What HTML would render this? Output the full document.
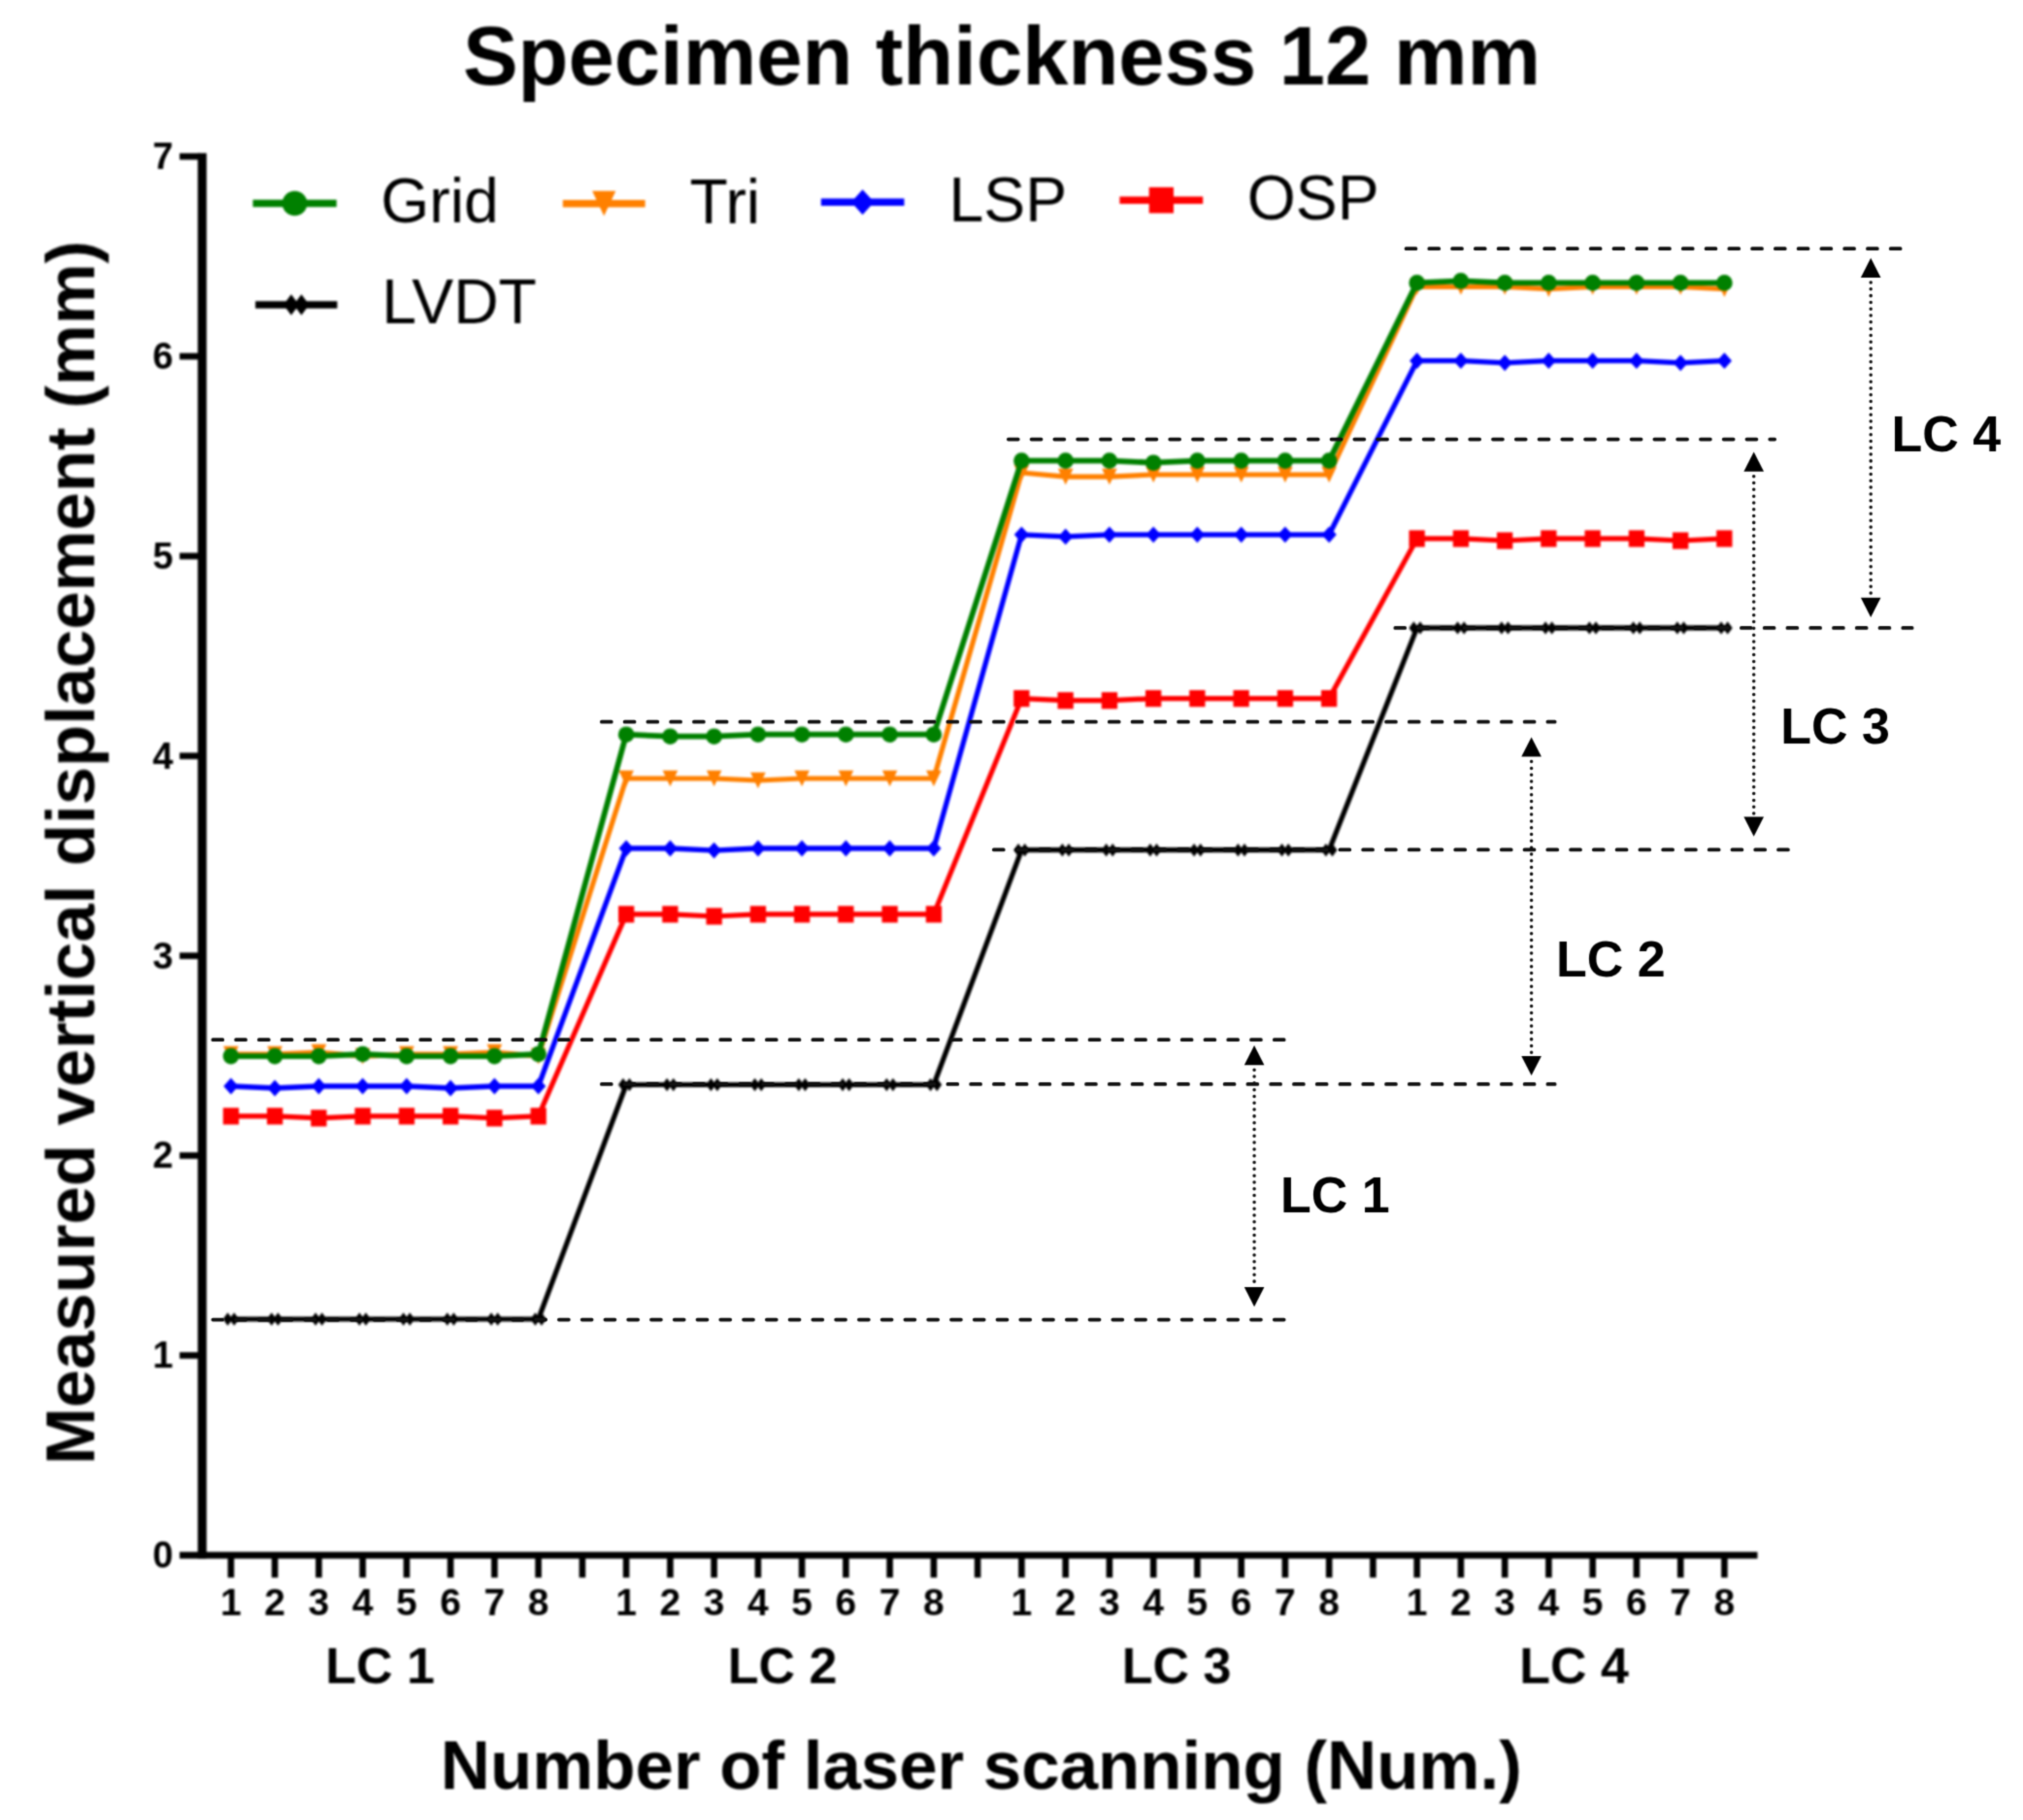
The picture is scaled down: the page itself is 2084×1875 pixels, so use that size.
<!DOCTYPE html>
<html lang="en"><head><meta charset="utf-8"><title>Specimen thickness 12 mm</title>
<style>html,body{margin:0;padding:0;background:#fff}svg{display:block}text{fill:#000}</style></head>
<body>
<svg width="2084" height="1875" viewBox="0 0 2084 1875" font-family="'Liberation Sans', Arial, Helvetica, sans-serif">
<rect width="2084" height="1875" fill="#fff"/>
<defs><filter id="soft" filterUnits="userSpaceOnUse" x="0" y="0" width="2084" height="1875" color-interpolation-filters="sRGB"><feGaussianBlur stdDeviation="0.8"/></filter><filter id="soft2" filterUnits="userSpaceOnUse" x="0" y="0" width="2084" height="1875" color-interpolation-filters="sRGB"><feConvolveMatrix order="5" preserveAlpha="false" edgeMode="none" kernelMatrix="0.00001 0.00062 0.00227 0.00062 0.00001 0.00062 0.03065 0.11253 0.03065 0.00062 0.00227 0.11253 0.41321 0.11253 0.00227 0.00062 0.03065 0.11253 0.03065 0.00062 0.00001 0.00062 0.00227 0.00062 0.00001"/></filter></defs>
<g filter="url(#soft)">
<path d="M237.9,1359.0L283.1,1359.0L328.4,1359.0L373.6,1359.0L418.9,1359.0L464.1,1359.0L509.4,1359.0L554.6,1359.0L645.1,1117.5L690.4,1117.5L735.6,1117.5L780.9,1117.5L826.1,1117.5L871.4,1117.5L916.6,1117.5L961.9,1117.5L1052.4,875.7L1097.7,875.7L1142.9,875.7L1188.2,875.7L1233.4,875.7L1278.7,875.7L1323.9,875.7L1369.2,875.7L1459.7,646.9L1504.9,646.9L1550.2,646.9L1595.4,646.9L1640.7,646.9L1685.9,646.9L1731.2,646.9L1776.4,646.9" stroke="#000000" stroke-width="5.2" fill="none" stroke-linejoin="round"/>
<path d="M229.6,1359.0L234.6,1352.3L239.6,1359.0L234.6,1365.7ZM236.2,1359.0L241.2,1352.3L246.2,1359.0L241.2,1365.7Z" fill="#000000"/>
<path d="M274.8,1359.0L279.8,1352.3L284.8,1359.0L279.8,1365.7ZM281.4,1359.0L286.4,1352.3L291.4,1359.0L286.4,1365.7Z" fill="#000000"/>
<path d="M320.1,1359.0L325.1,1352.3L330.1,1359.0L325.1,1365.7ZM326.7,1359.0L331.7,1352.3L336.7,1359.0L331.7,1365.7Z" fill="#000000"/>
<path d="M365.3,1359.0L370.3,1352.3L375.3,1359.0L370.3,1365.7ZM371.9,1359.0L376.9,1352.3L381.9,1359.0L376.9,1365.7Z" fill="#000000"/>
<path d="M410.6,1359.0L415.6,1352.3L420.6,1359.0L415.6,1365.7ZM417.2,1359.0L422.2,1352.3L427.2,1359.0L422.2,1365.7Z" fill="#000000"/>
<path d="M455.8,1359.0L460.8,1352.3L465.8,1359.0L460.8,1365.7ZM462.4,1359.0L467.4,1352.3L472.4,1359.0L467.4,1365.7Z" fill="#000000"/>
<path d="M501.1,1359.0L506.1,1352.3L511.1,1359.0L506.1,1365.7ZM507.7,1359.0L512.7,1352.3L517.7,1359.0L512.7,1365.7Z" fill="#000000"/>
<path d="M546.4,1359.0L551.4,1352.3L556.4,1359.0L551.4,1365.7ZM552.9,1359.0L557.9,1352.3L562.9,1359.0L557.9,1365.7Z" fill="#000000"/>
<path d="M636.9,1117.5L641.9,1110.8L646.9,1117.5L641.9,1124.2ZM643.4,1117.5L648.4,1110.8L653.4,1117.5L648.4,1124.2Z" fill="#000000"/>
<path d="M682.1,1117.5L687.1,1110.8L692.1,1117.5L687.1,1124.2ZM688.7,1117.5L693.7,1110.8L698.7,1117.5L693.7,1124.2Z" fill="#000000"/>
<path d="M727.4,1117.5L732.4,1110.8L737.4,1117.5L732.4,1124.2ZM733.9,1117.5L738.9,1110.8L743.9,1117.5L738.9,1124.2Z" fill="#000000"/>
<path d="M772.6,1117.5L777.6,1110.8L782.6,1117.5L777.6,1124.2ZM779.2,1117.5L784.2,1110.8L789.2,1117.5L784.2,1124.2Z" fill="#000000"/>
<path d="M817.9,1117.5L822.9,1110.8L827.9,1117.5L822.9,1124.2ZM824.4,1117.5L829.4,1110.8L834.4,1117.5L829.4,1124.2Z" fill="#000000"/>
<path d="M863.1,1117.5L868.1,1110.8L873.1,1117.5L868.1,1124.2ZM869.7,1117.5L874.7,1110.8L879.7,1117.5L874.7,1124.2Z" fill="#000000"/>
<path d="M908.4,1117.5L913.4,1110.8L918.4,1117.5L913.4,1124.2ZM914.9,1117.5L919.9,1110.8L924.9,1117.5L919.9,1124.2Z" fill="#000000"/>
<path d="M953.6,1117.5L958.6,1110.8L963.6,1117.5L958.6,1124.2ZM960.2,1117.5L965.2,1110.8L970.2,1117.5L965.2,1124.2Z" fill="#000000"/>
<path d="M1044.1,875.7L1049.1,869.0L1054.1,875.7L1049.1,882.4ZM1050.7,875.7L1055.7,869.0L1060.7,875.7L1055.7,882.4Z" fill="#000000"/>
<path d="M1089.4,875.7L1094.4,869.0L1099.4,875.7L1094.4,882.4ZM1096.0,875.7L1101.0,869.0L1106.0,875.7L1101.0,882.4Z" fill="#000000"/>
<path d="M1134.6,875.7L1139.6,869.0L1144.6,875.7L1139.6,882.4ZM1141.2,875.7L1146.2,869.0L1151.2,875.7L1146.2,882.4Z" fill="#000000"/>
<path d="M1179.9,875.7L1184.9,869.0L1189.9,875.7L1184.9,882.4ZM1186.5,875.7L1191.5,869.0L1196.5,875.7L1191.5,882.4Z" fill="#000000"/>
<path d="M1225.1,875.7L1230.1,869.0L1235.1,875.7L1230.1,882.4ZM1231.7,875.7L1236.7,869.0L1241.7,875.7L1236.7,882.4Z" fill="#000000"/>
<path d="M1270.4,875.7L1275.4,869.0L1280.4,875.7L1275.4,882.4ZM1277.0,875.7L1282.0,869.0L1287.0,875.7L1282.0,882.4Z" fill="#000000"/>
<path d="M1315.6,875.7L1320.6,869.0L1325.6,875.7L1320.6,882.4ZM1322.2,875.7L1327.2,869.0L1332.2,875.7L1327.2,882.4Z" fill="#000000"/>
<path d="M1360.9,875.7L1365.9,869.0L1370.9,875.7L1365.9,882.4ZM1367.5,875.7L1372.5,869.0L1377.5,875.7L1372.5,882.4Z" fill="#000000"/>
<path d="M1451.4,646.9L1456.4,640.2L1461.4,646.9L1456.4,653.6ZM1458.0,646.9L1463.0,640.2L1468.0,646.9L1463.0,653.6Z" fill="#000000"/>
<path d="M1496.6,646.9L1501.6,640.2L1506.6,646.9L1501.6,653.6ZM1503.2,646.9L1508.2,640.2L1513.2,646.9L1508.2,653.6Z" fill="#000000"/>
<path d="M1541.9,646.9L1546.9,640.2L1551.9,646.9L1546.9,653.6ZM1548.5,646.9L1553.5,640.2L1558.5,646.9L1553.5,653.6Z" fill="#000000"/>
<path d="M1587.1,646.9L1592.1,640.2L1597.1,646.9L1592.1,653.6ZM1593.7,646.9L1598.7,640.2L1603.7,646.9L1598.7,653.6Z" fill="#000000"/>
<path d="M1632.4,646.9L1637.4,640.2L1642.4,646.9L1637.4,653.6ZM1639.0,646.9L1644.0,640.2L1649.0,646.9L1644.0,653.6Z" fill="#000000"/>
<path d="M1677.6,646.9L1682.6,640.2L1687.6,646.9L1682.6,653.6ZM1684.2,646.9L1689.2,640.2L1694.2,646.9L1689.2,653.6Z" fill="#000000"/>
<path d="M1722.9,646.9L1727.9,640.2L1732.9,646.9L1727.9,653.6ZM1729.5,646.9L1734.5,640.2L1739.5,646.9L1734.5,653.6Z" fill="#000000"/>
<path d="M1768.1,646.9L1773.1,640.2L1778.1,646.9L1773.1,653.6ZM1774.7,646.9L1779.7,640.2L1784.7,646.9L1779.7,653.6Z" fill="#000000"/>
<path d="M237.9,1149.9L283.1,1149.9L328.4,1151.9L373.6,1149.9L418.9,1149.9L464.1,1149.9L509.4,1151.9L554.6,1149.9L645.1,941.9L690.4,941.9L735.6,944.0L780.9,941.9L826.1,941.9L871.4,941.9L916.6,941.9L961.9,941.9L1052.4,719.6L1097.7,721.7L1142.9,721.7L1188.2,719.6L1233.4,719.6L1278.7,719.6L1323.9,719.6L1369.2,719.6L1459.7,554.9L1504.9,554.9L1550.2,557.0L1595.4,554.9L1640.7,554.9L1685.9,554.9L1731.2,557.0L1776.4,554.9" stroke="#FF0000" stroke-width="5.2" fill="none" stroke-linejoin="round"/>
<rect x="229.8" y="1141.3" width="16.3" height="17.2" fill="#FF0000"/>
<rect x="275.0" y="1141.3" width="16.3" height="17.2" fill="#FF0000"/>
<rect x="320.2" y="1143.3" width="16.3" height="17.2" fill="#FF0000"/>
<rect x="365.5" y="1141.3" width="16.3" height="17.2" fill="#FF0000"/>
<rect x="410.8" y="1141.3" width="16.3" height="17.2" fill="#FF0000"/>
<rect x="456.0" y="1141.3" width="16.3" height="17.2" fill="#FF0000"/>
<rect x="501.2" y="1143.3" width="16.3" height="17.2" fill="#FF0000"/>
<rect x="546.5" y="1141.3" width="16.3" height="17.2" fill="#FF0000"/>
<rect x="637.0" y="933.3" width="16.3" height="17.2" fill="#FF0000"/>
<rect x="682.2" y="933.3" width="16.3" height="17.2" fill="#FF0000"/>
<rect x="727.5" y="935.4" width="16.3" height="17.2" fill="#FF0000"/>
<rect x="772.8" y="933.3" width="16.3" height="17.2" fill="#FF0000"/>
<rect x="818.0" y="933.3" width="16.3" height="17.2" fill="#FF0000"/>
<rect x="863.2" y="933.3" width="16.3" height="17.2" fill="#FF0000"/>
<rect x="908.5" y="933.3" width="16.3" height="17.2" fill="#FF0000"/>
<rect x="953.8" y="933.3" width="16.3" height="17.2" fill="#FF0000"/>
<rect x="1044.2" y="711.0" width="16.3" height="17.2" fill="#FF0000"/>
<rect x="1089.5" y="713.1" width="16.3" height="17.2" fill="#FF0000"/>
<rect x="1134.8" y="713.1" width="16.3" height="17.2" fill="#FF0000"/>
<rect x="1180.0" y="711.0" width="16.3" height="17.2" fill="#FF0000"/>
<rect x="1225.2" y="711.0" width="16.3" height="17.2" fill="#FF0000"/>
<rect x="1270.5" y="711.0" width="16.3" height="17.2" fill="#FF0000"/>
<rect x="1315.8" y="711.0" width="16.3" height="17.2" fill="#FF0000"/>
<rect x="1361.0" y="711.0" width="16.3" height="17.2" fill="#FF0000"/>
<rect x="1451.5" y="546.3" width="16.3" height="17.2" fill="#FF0000"/>
<rect x="1496.8" y="546.3" width="16.3" height="17.2" fill="#FF0000"/>
<rect x="1542.0" y="548.4" width="16.3" height="17.2" fill="#FF0000"/>
<rect x="1587.2" y="546.3" width="16.3" height="17.2" fill="#FF0000"/>
<rect x="1632.5" y="546.3" width="16.3" height="17.2" fill="#FF0000"/>
<rect x="1677.8" y="546.3" width="16.3" height="17.2" fill="#FF0000"/>
<rect x="1723.0" y="548.4" width="16.3" height="17.2" fill="#FF0000"/>
<rect x="1768.2" y="546.3" width="16.3" height="17.2" fill="#FF0000"/>
<path d="M237.9,1119.0L283.1,1121.0L328.4,1119.0L373.6,1119.0L418.9,1119.0L464.1,1121.0L509.4,1119.0L554.6,1119.0L645.1,874.0L690.4,874.0L735.6,876.1L780.9,874.0L826.1,874.0L871.4,874.0L916.6,874.0L961.9,874.0L1052.4,550.8L1097.7,552.9L1142.9,550.8L1188.2,550.8L1233.4,550.8L1278.7,550.8L1323.9,550.8L1369.2,550.8L1459.7,371.7L1504.9,371.7L1550.2,373.8L1595.4,371.7L1640.7,371.7L1685.9,371.7L1731.2,373.8L1776.4,371.7" stroke="#0000FF" stroke-width="5.3" fill="none" stroke-linejoin="round"/>
<polygon points="230.3,1119.0 237.9,1110.6 245.5,1119.0 237.9,1127.4" fill="#0000FF"/>
<polygon points="275.5,1121.0 283.1,1112.6 290.8,1121.0 283.1,1129.4" fill="#0000FF"/>
<polygon points="320.8,1119.0 328.4,1110.6 336.0,1119.0 328.4,1127.4" fill="#0000FF"/>
<polygon points="366.0,1119.0 373.6,1110.6 381.2,1119.0 373.6,1127.4" fill="#0000FF"/>
<polygon points="411.3,1119.0 418.9,1110.6 426.5,1119.0 418.9,1127.4" fill="#0000FF"/>
<polygon points="456.5,1121.0 464.1,1112.6 471.8,1121.0 464.1,1129.4" fill="#0000FF"/>
<polygon points="501.8,1119.0 509.4,1110.6 517.0,1119.0 509.4,1127.4" fill="#0000FF"/>
<polygon points="547.0,1119.0 554.6,1110.6 562.2,1119.0 554.6,1127.4" fill="#0000FF"/>
<polygon points="637.5,874.0 645.1,865.6 652.8,874.0 645.1,882.4" fill="#0000FF"/>
<polygon points="682.8,874.0 690.4,865.6 698.0,874.0 690.4,882.4" fill="#0000FF"/>
<polygon points="728.0,876.1 735.6,867.7 743.2,876.1 735.6,884.5" fill="#0000FF"/>
<polygon points="773.3,874.0 780.9,865.6 788.5,874.0 780.9,882.4" fill="#0000FF"/>
<polygon points="818.5,874.0 826.1,865.6 833.8,874.0 826.1,882.4" fill="#0000FF"/>
<polygon points="863.8,874.0 871.4,865.6 879.0,874.0 871.4,882.4" fill="#0000FF"/>
<polygon points="909.0,874.0 916.6,865.6 924.2,874.0 916.6,882.4" fill="#0000FF"/>
<polygon points="954.3,874.0 961.9,865.6 969.5,874.0 961.9,882.4" fill="#0000FF"/>
<polygon points="1044.8,550.8 1052.4,542.4 1060.0,550.8 1052.4,559.2" fill="#0000FF"/>
<polygon points="1090.1,552.9 1097.7,544.5 1105.2,552.9 1097.7,561.3" fill="#0000FF"/>
<polygon points="1135.3,550.8 1142.9,542.4 1150.5,550.8 1142.9,559.2" fill="#0000FF"/>
<polygon points="1180.6,550.8 1188.2,542.4 1195.8,550.8 1188.2,559.2" fill="#0000FF"/>
<polygon points="1225.8,550.8 1233.4,542.4 1241.0,550.8 1233.4,559.2" fill="#0000FF"/>
<polygon points="1271.1,550.8 1278.7,542.4 1286.2,550.8 1278.7,559.2" fill="#0000FF"/>
<polygon points="1316.3,550.8 1323.9,542.4 1331.5,550.8 1323.9,559.2" fill="#0000FF"/>
<polygon points="1361.6,550.8 1369.2,542.4 1376.8,550.8 1369.2,559.2" fill="#0000FF"/>
<polygon points="1452.1,371.7 1459.7,363.3 1467.2,371.7 1459.7,380.1" fill="#0000FF"/>
<polygon points="1497.3,371.7 1504.9,363.3 1512.5,371.7 1504.9,380.1" fill="#0000FF"/>
<polygon points="1542.6,373.8 1550.2,365.4 1557.8,373.8 1550.2,382.2" fill="#0000FF"/>
<polygon points="1587.8,371.7 1595.4,363.3 1603.0,371.7 1595.4,380.1" fill="#0000FF"/>
<polygon points="1633.1,371.7 1640.7,363.3 1648.2,371.7 1640.7,380.1" fill="#0000FF"/>
<polygon points="1678.3,371.7 1685.9,363.3 1693.5,371.7 1685.9,380.1" fill="#0000FF"/>
<polygon points="1723.6,373.8 1731.2,365.4 1738.8,373.8 1731.2,382.2" fill="#0000FF"/>
<polygon points="1768.8,371.7 1776.4,363.3 1784.0,371.7 1776.4,380.1" fill="#0000FF"/>
<path d="M237.9,1086.0L283.1,1086.0L328.4,1084.0L373.6,1088.1L418.9,1086.0L464.1,1086.0L509.4,1084.0L554.6,1088.1L645.1,802.0L690.4,802.0L735.6,802.0L780.9,804.0L826.1,802.0L871.4,802.0L916.6,802.0L961.9,802.0L1052.4,487.0L1097.7,491.1L1142.9,491.1L1188.2,489.0L1233.4,489.0L1278.7,489.0L1323.9,489.0L1369.2,489.0L1459.7,295.5L1504.9,295.5L1550.2,295.5L1595.4,297.6L1640.7,295.5L1685.9,295.5L1731.2,295.5L1776.4,297.6" stroke="#FF8000" stroke-width="5.2" fill="none" stroke-linejoin="round"/>
<polygon points="230.1,1077.7 245.7,1077.7 237.9,1094.3" fill="#FF8000"/>
<polygon points="275.3,1077.7 290.9,1077.7 283.1,1094.3" fill="#FF8000"/>
<polygon points="320.6,1075.7 336.2,1075.7 328.4,1092.3" fill="#FF8000"/>
<polygon points="365.8,1079.8 381.4,1079.8 373.6,1096.4" fill="#FF8000"/>
<polygon points="411.1,1077.7 426.7,1077.7 418.9,1094.3" fill="#FF8000"/>
<polygon points="456.3,1077.7 471.9,1077.7 464.1,1094.3" fill="#FF8000"/>
<polygon points="501.6,1075.7 517.2,1075.7 509.4,1092.3" fill="#FF8000"/>
<polygon points="546.9,1079.8 562.4,1079.8 554.6,1096.4" fill="#FF8000"/>
<polygon points="637.4,793.7 652.9,793.7 645.1,810.3" fill="#FF8000"/>
<polygon points="682.6,793.7 698.2,793.7 690.4,810.3" fill="#FF8000"/>
<polygon points="727.9,793.7 743.4,793.7 735.6,810.3" fill="#FF8000"/>
<polygon points="773.1,795.7 788.7,795.7 780.9,812.3" fill="#FF8000"/>
<polygon points="818.4,793.7 833.9,793.7 826.1,810.3" fill="#FF8000"/>
<polygon points="863.6,793.7 879.2,793.7 871.4,810.3" fill="#FF8000"/>
<polygon points="908.9,793.7 924.4,793.7 916.6,810.3" fill="#FF8000"/>
<polygon points="954.1,793.7 969.7,793.7 961.9,810.3" fill="#FF8000"/>
<polygon points="1044.6,478.7 1060.2,478.7 1052.4,495.3" fill="#FF8000"/>
<polygon points="1089.9,482.8 1105.5,482.8 1097.7,499.4" fill="#FF8000"/>
<polygon points="1135.1,482.8 1150.7,482.8 1142.9,499.4" fill="#FF8000"/>
<polygon points="1180.4,480.7 1196.0,480.7 1188.2,497.3" fill="#FF8000"/>
<polygon points="1225.6,480.7 1241.2,480.7 1233.4,497.3" fill="#FF8000"/>
<polygon points="1270.9,480.7 1286.5,480.7 1278.7,497.3" fill="#FF8000"/>
<polygon points="1316.1,480.7 1331.7,480.7 1323.9,497.3" fill="#FF8000"/>
<polygon points="1361.4,480.7 1377.0,480.7 1369.2,497.3" fill="#FF8000"/>
<polygon points="1451.9,287.2 1467.5,287.2 1459.7,303.8" fill="#FF8000"/>
<polygon points="1497.1,287.2 1512.7,287.2 1504.9,303.8" fill="#FF8000"/>
<polygon points="1542.4,287.2 1558.0,287.2 1550.2,303.8" fill="#FF8000"/>
<polygon points="1587.6,289.3 1603.2,289.3 1595.4,305.9" fill="#FF8000"/>
<polygon points="1632.9,287.2 1648.5,287.2 1640.7,303.8" fill="#FF8000"/>
<polygon points="1678.1,287.2 1693.7,287.2 1685.9,303.8" fill="#FF8000"/>
<polygon points="1723.4,287.2 1739.0,287.2 1731.2,303.8" fill="#FF8000"/>
<polygon points="1768.6,289.3 1784.2,289.3 1776.4,305.9" fill="#FF8000"/>
<path d="M237.9,1088.1L283.1,1088.1L328.4,1088.1L373.6,1086.0L418.9,1088.1L464.1,1088.1L509.4,1088.1L554.6,1086.0L645.1,756.7L690.4,758.7L735.6,758.7L780.9,756.7L826.1,756.7L871.4,756.7L916.6,756.7L961.9,756.7L1052.4,474.6L1097.7,474.6L1142.9,474.6L1188.2,476.7L1233.4,474.6L1278.7,474.6L1323.9,474.6L1369.2,474.6L1459.7,291.4L1504.9,289.4L1550.2,291.4L1595.4,291.4L1640.7,291.4L1685.9,291.4L1731.2,291.4L1776.4,291.4" stroke="#008000" stroke-width="5.8" fill="none" stroke-linejoin="round"/>
<circle cx="237.9" cy="1088.1" r="8.30" fill="#008000"/>
<circle cx="283.1" cy="1088.1" r="8.30" fill="#008000"/>
<circle cx="328.4" cy="1088.1" r="8.30" fill="#008000"/>
<circle cx="373.6" cy="1086.0" r="8.30" fill="#008000"/>
<circle cx="418.9" cy="1088.1" r="8.30" fill="#008000"/>
<circle cx="464.1" cy="1088.1" r="8.30" fill="#008000"/>
<circle cx="509.4" cy="1088.1" r="8.30" fill="#008000"/>
<circle cx="554.6" cy="1086.0" r="8.30" fill="#008000"/>
<circle cx="645.1" cy="756.7" r="8.30" fill="#008000"/>
<circle cx="690.4" cy="758.7" r="8.30" fill="#008000"/>
<circle cx="735.6" cy="758.7" r="8.30" fill="#008000"/>
<circle cx="780.9" cy="756.7" r="8.30" fill="#008000"/>
<circle cx="826.1" cy="756.7" r="8.30" fill="#008000"/>
<circle cx="871.4" cy="756.7" r="8.30" fill="#008000"/>
<circle cx="916.6" cy="756.7" r="8.30" fill="#008000"/>
<circle cx="961.9" cy="756.7" r="8.30" fill="#008000"/>
<circle cx="1052.4" cy="474.6" r="8.30" fill="#008000"/>
<circle cx="1097.7" cy="474.6" r="8.30" fill="#008000"/>
<circle cx="1142.9" cy="474.6" r="8.30" fill="#008000"/>
<circle cx="1188.2" cy="476.7" r="8.30" fill="#008000"/>
<circle cx="1233.4" cy="474.6" r="8.30" fill="#008000"/>
<circle cx="1278.7" cy="474.6" r="8.30" fill="#008000"/>
<circle cx="1323.9" cy="474.6" r="8.30" fill="#008000"/>
<circle cx="1369.2" cy="474.6" r="8.30" fill="#008000"/>
<circle cx="1459.7" cy="291.4" r="8.30" fill="#008000"/>
<circle cx="1504.9" cy="289.4" r="8.30" fill="#008000"/>
<circle cx="1550.2" cy="291.4" r="8.30" fill="#008000"/>
<circle cx="1595.4" cy="291.4" r="8.30" fill="#008000"/>
<circle cx="1640.7" cy="291.4" r="8.30" fill="#008000"/>
<circle cx="1685.9" cy="291.4" r="8.30" fill="#008000"/>
<circle cx="1731.2" cy="291.4" r="8.30" fill="#008000"/>
<circle cx="1776.4" cy="291.4" r="8.30" fill="#008000"/>
<path d="M208.25,157.8V1605.8" stroke="#000" stroke-width="9.1" fill="none"/>
<path d="M185,1602.25H1810.5" stroke="#000" stroke-width="7.1" fill="none"/>
<text x="178.5" y="1615.2" font-size="38" font-weight="bold" text-anchor="end">0</text>
<path d="M185,1396.4H206" stroke="#000" stroke-width="6.7" fill="none"/>
<text x="178.5" y="1409.3" font-size="38" font-weight="bold" text-anchor="end">1</text>
<path d="M185,1190.5H206" stroke="#000" stroke-width="6.7" fill="none"/>
<text x="178.5" y="1203.4" font-size="38" font-weight="bold" text-anchor="end">2</text>
<path d="M185,984.7H206" stroke="#000" stroke-width="6.7" fill="none"/>
<text x="178.5" y="997.6" font-size="38" font-weight="bold" text-anchor="end">3</text>
<path d="M185,778.8H206" stroke="#000" stroke-width="6.7" fill="none"/>
<text x="178.5" y="791.7" font-size="38" font-weight="bold" text-anchor="end">4</text>
<path d="M185,572.9H206" stroke="#000" stroke-width="6.7" fill="none"/>
<text x="178.5" y="585.8" font-size="38" font-weight="bold" text-anchor="end">5</text>
<path d="M185,367.1H206" stroke="#000" stroke-width="6.7" fill="none"/>
<text x="178.5" y="380.0" font-size="38" font-weight="bold" text-anchor="end">6</text>
<path d="M185,161.2H206" stroke="#000" stroke-width="6.7" fill="none"/>
<text x="178.5" y="174.1" font-size="38" font-weight="bold" text-anchor="end">7</text>
<path d="M237.9,1604.2V1625.3" stroke="#000" stroke-width="6.6" fill="none"/>
<text x="237.9" y="1664.2" font-size="39" font-weight="bold" text-anchor="middle">1</text>
<path d="M283.1,1604.2V1625.3" stroke="#000" stroke-width="6.6" fill="none"/>
<text x="283.1" y="1664.2" font-size="39" font-weight="bold" text-anchor="middle">2</text>
<path d="M328.4,1604.2V1625.3" stroke="#000" stroke-width="6.6" fill="none"/>
<text x="328.4" y="1664.2" font-size="39" font-weight="bold" text-anchor="middle">3</text>
<path d="M373.6,1604.2V1625.3" stroke="#000" stroke-width="6.6" fill="none"/>
<text x="373.6" y="1664.2" font-size="39" font-weight="bold" text-anchor="middle">4</text>
<path d="M418.9,1604.2V1625.3" stroke="#000" stroke-width="6.6" fill="none"/>
<text x="418.9" y="1664.2" font-size="39" font-weight="bold" text-anchor="middle">5</text>
<path d="M464.1,1604.2V1625.3" stroke="#000" stroke-width="6.6" fill="none"/>
<text x="464.1" y="1664.2" font-size="39" font-weight="bold" text-anchor="middle">6</text>
<path d="M509.4,1604.2V1625.3" stroke="#000" stroke-width="6.6" fill="none"/>
<text x="509.4" y="1664.2" font-size="39" font-weight="bold" text-anchor="middle">7</text>
<path d="M554.6,1604.2V1625.3" stroke="#000" stroke-width="6.6" fill="none"/>
<text x="554.6" y="1664.2" font-size="39" font-weight="bold" text-anchor="middle">8</text>
<path d="M599.9,1604.2V1625.3" stroke="#000" stroke-width="6.6" fill="none"/>
<path d="M645.1,1604.2V1625.3" stroke="#000" stroke-width="6.6" fill="none"/>
<text x="645.1" y="1664.2" font-size="39" font-weight="bold" text-anchor="middle">1</text>
<path d="M690.4,1604.2V1625.3" stroke="#000" stroke-width="6.6" fill="none"/>
<text x="690.4" y="1664.2" font-size="39" font-weight="bold" text-anchor="middle">2</text>
<path d="M735.6,1604.2V1625.3" stroke="#000" stroke-width="6.6" fill="none"/>
<text x="735.6" y="1664.2" font-size="39" font-weight="bold" text-anchor="middle">3</text>
<path d="M780.9,1604.2V1625.3" stroke="#000" stroke-width="6.6" fill="none"/>
<text x="780.9" y="1664.2" font-size="39" font-weight="bold" text-anchor="middle">4</text>
<path d="M826.1,1604.2V1625.3" stroke="#000" stroke-width="6.6" fill="none"/>
<text x="826.1" y="1664.2" font-size="39" font-weight="bold" text-anchor="middle">5</text>
<path d="M871.4,1604.2V1625.3" stroke="#000" stroke-width="6.6" fill="none"/>
<text x="871.4" y="1664.2" font-size="39" font-weight="bold" text-anchor="middle">6</text>
<path d="M916.6,1604.2V1625.3" stroke="#000" stroke-width="6.6" fill="none"/>
<text x="916.6" y="1664.2" font-size="39" font-weight="bold" text-anchor="middle">7</text>
<path d="M961.9,1604.2V1625.3" stroke="#000" stroke-width="6.6" fill="none"/>
<text x="961.9" y="1664.2" font-size="39" font-weight="bold" text-anchor="middle">8</text>
<path d="M1007.1,1604.2V1625.3" stroke="#000" stroke-width="6.6" fill="none"/>
<path d="M1052.4,1604.2V1625.3" stroke="#000" stroke-width="6.6" fill="none"/>
<text x="1052.4" y="1664.2" font-size="39" font-weight="bold" text-anchor="middle">1</text>
<path d="M1097.7,1604.2V1625.3" stroke="#000" stroke-width="6.6" fill="none"/>
<text x="1097.7" y="1664.2" font-size="39" font-weight="bold" text-anchor="middle">2</text>
<path d="M1142.9,1604.2V1625.3" stroke="#000" stroke-width="6.6" fill="none"/>
<text x="1142.9" y="1664.2" font-size="39" font-weight="bold" text-anchor="middle">3</text>
<path d="M1188.2,1604.2V1625.3" stroke="#000" stroke-width="6.6" fill="none"/>
<text x="1188.2" y="1664.2" font-size="39" font-weight="bold" text-anchor="middle">4</text>
<path d="M1233.4,1604.2V1625.3" stroke="#000" stroke-width="6.6" fill="none"/>
<text x="1233.4" y="1664.2" font-size="39" font-weight="bold" text-anchor="middle">5</text>
<path d="M1278.7,1604.2V1625.3" stroke="#000" stroke-width="6.6" fill="none"/>
<text x="1278.7" y="1664.2" font-size="39" font-weight="bold" text-anchor="middle">6</text>
<path d="M1323.9,1604.2V1625.3" stroke="#000" stroke-width="6.6" fill="none"/>
<text x="1323.9" y="1664.2" font-size="39" font-weight="bold" text-anchor="middle">7</text>
<path d="M1369.2,1604.2V1625.3" stroke="#000" stroke-width="6.6" fill="none"/>
<text x="1369.2" y="1664.2" font-size="39" font-weight="bold" text-anchor="middle">8</text>
<path d="M1414.4,1604.2V1625.3" stroke="#000" stroke-width="6.6" fill="none"/>
<path d="M1459.7,1604.2V1625.3" stroke="#000" stroke-width="6.6" fill="none"/>
<text x="1459.7" y="1664.2" font-size="39" font-weight="bold" text-anchor="middle">1</text>
<path d="M1504.9,1604.2V1625.3" stroke="#000" stroke-width="6.6" fill="none"/>
<text x="1504.9" y="1664.2" font-size="39" font-weight="bold" text-anchor="middle">2</text>
<path d="M1550.2,1604.2V1625.3" stroke="#000" stroke-width="6.6" fill="none"/>
<text x="1550.2" y="1664.2" font-size="39" font-weight="bold" text-anchor="middle">3</text>
<path d="M1595.4,1604.2V1625.3" stroke="#000" stroke-width="6.6" fill="none"/>
<text x="1595.4" y="1664.2" font-size="39" font-weight="bold" text-anchor="middle">4</text>
<path d="M1640.7,1604.2V1625.3" stroke="#000" stroke-width="6.6" fill="none"/>
<text x="1640.7" y="1664.2" font-size="39" font-weight="bold" text-anchor="middle">5</text>
<path d="M1685.9,1604.2V1625.3" stroke="#000" stroke-width="6.6" fill="none"/>
<text x="1685.9" y="1664.2" font-size="39" font-weight="bold" text-anchor="middle">6</text>
<path d="M1731.2,1604.2V1625.3" stroke="#000" stroke-width="6.6" fill="none"/>
<text x="1731.2" y="1664.2" font-size="39" font-weight="bold" text-anchor="middle">7</text>
<path d="M1776.4,1604.2V1625.3" stroke="#000" stroke-width="6.6" fill="none"/>
<text x="1776.4" y="1664.2" font-size="39" font-weight="bold" text-anchor="middle">8</text>
<text x="391.5" y="1733.5" font-size="52" font-weight="bold" text-anchor="middle">LC 1</text>
<text x="806" y="1733.5" font-size="52" font-weight="bold" text-anchor="middle">LC 2</text>
<text x="1212" y="1733.5" font-size="52" font-weight="bold" text-anchor="middle">LC 3</text>
<text x="1621.5" y="1733.5" font-size="52" font-weight="bold" text-anchor="middle">LC 4</text>
<text x="1032" y="87.1" font-size="85" font-weight="bold" text-anchor="middle">Specimen thickness 12 mm</text>
<text x="1010.8" y="1842.5" font-size="70.85" font-weight="bold" text-anchor="middle">Number of laser scanning (Num.)</text>
<text transform="translate(97,878.5) rotate(-90)" font-size="70.7" font-weight="bold" text-anchor="middle">Measured vertical displacement (mm)</text>
<path d="M260.5,209.5H346.7" stroke="#008000" stroke-width="7.4" fill="none"/><circle cx="303.6" cy="209.5" r="12.87" fill="#008000"/><text x="392.3" y="229.3" font-size="64.3">Grid</text>
<path d="M579.8,209.7H664.6" stroke="#FF8000" stroke-width="7.4" fill="none"/><polygon points="610.1,196.8 634.3,196.8 622.2,222.6" fill="#FF8000"/><text x="710.5" y="229.6" font-size="64.3">Tri</text>
<path d="M845.8,208.3H931.5" stroke="#0000FF" stroke-width="7.4" fill="none"/><polygon points="876.9,208.3 888.6,195.3 900.4,208.3 888.6,221.3" fill="#0000FF"/><text x="977.5" y="228.0" font-size="64.3">LSP</text>
<path d="M1153.4,206.2H1239.2" stroke="#FF0000" stroke-width="7.4" fill="none"/><rect x="1183.7" y="192.9" width="25.3" height="26.7" fill="#FF0000"/><text x="1284.8" y="225.6" font-size="64.3">OSP</text>
<path d="M263.1,314.0H347.4" stroke="#000000" stroke-width="7.4" fill="none"/><path d="M292.0,314.0L300.0,303.3L308.0,314.0L300.0,324.7ZM302.5,314.0L310.5,303.3L318.5,314.0L310.5,324.7Z" fill="#000000"/><text x="393.3" y="333.4" font-size="64.3">LVDT</text>
</g>
<g filter="url(#soft2)">
<path d="M219.3,1071.2H1323.2" stroke="#111" stroke-width="3.7" stroke-linecap="round" stroke-dasharray="10.0 13.77" fill="none"/>
<path d="M219.3,1359.6H1323.2" stroke="#111" stroke-width="3.7" stroke-linecap="round" stroke-dasharray="10.0 13.77" fill="none"/>
<path d="M619.8,743.7H1601.7" stroke="#111" stroke-width="3.7" stroke-linecap="round" stroke-dasharray="10.0 13.77" fill="none"/>
<path d="M619.8,1116.9H1601.7" stroke="#111" stroke-width="3.7" stroke-linecap="round" stroke-dasharray="10.0 13.77" fill="none"/>
<path d="M1038.8,452.6H1828.2" stroke="#111" stroke-width="3.7" stroke-linecap="round" stroke-dasharray="10.0 13.77" fill="none"/>
<path d="M1023.8,875.4H1842.7" stroke="#111" stroke-width="3.7" stroke-linecap="round" stroke-dasharray="10.0 13.77" fill="none"/>
<path d="M1448.5,256.2H1969.7" stroke="#111" stroke-width="3.7" stroke-linecap="round" stroke-dasharray="10.0 13.77" fill="none"/>
<path d="M1437.3,646.9H1969.7" stroke="#111" stroke-width="3.7" stroke-linecap="round" stroke-dasharray="10.0 13.77" fill="none"/>
<polygon points="1292.1,1077.0 1281.8,1097.2 1302.4,1097.2" fill="#000"/><polygon points="1292.1,1346.2 1281.8,1326.0 1302.4,1326.0" fill="#000"/><path d="M1292.1,1102.2V1323.0" stroke="#111" stroke-width="3.5" stroke-linecap="round" stroke-dasharray="0.01 6.8" fill="none"/>
<polygon points="1577.6,759.4 1567.3,779.6 1587.9,779.6" fill="#000"/><polygon points="1577.6,1108.1 1567.3,1087.9 1587.9,1087.9" fill="#000"/><path d="M1577.6,784.6V1084.9" stroke="#111" stroke-width="3.5" stroke-linecap="round" stroke-dasharray="0.01 6.8" fill="none"/>
<polygon points="1806.7,465.5 1796.4,485.7 1817.0,485.7" fill="#000"/><polygon points="1806.7,861.7 1796.4,841.5 1817.0,841.5" fill="#000"/><path d="M1806.7,490.7V838.5" stroke="#111" stroke-width="3.5" stroke-linecap="round" stroke-dasharray="0.01 6.8" fill="none"/>
<polygon points="1927.2,265.8 1916.9,286.0 1937.5,286.0" fill="#000"/><polygon points="1927.2,635.9 1916.9,615.7 1937.5,615.7" fill="#000"/><path d="M1927.2,291.0V612.7" stroke="#111" stroke-width="3.5" stroke-linecap="round" stroke-dasharray="0.01 6.8" fill="none"/>
<text x="1319" y="1248.6" font-size="52" font-weight="bold">LC 1</text>
<text x="1603" y="1005.8" font-size="52" font-weight="bold">LC 2</text>
<text x="1834.3" y="766" font-size="52" font-weight="bold">LC 3</text>
<text x="1948.5" y="464.7" font-size="52" font-weight="bold">LC 4</text>
</g>
</svg>
</body></html>
